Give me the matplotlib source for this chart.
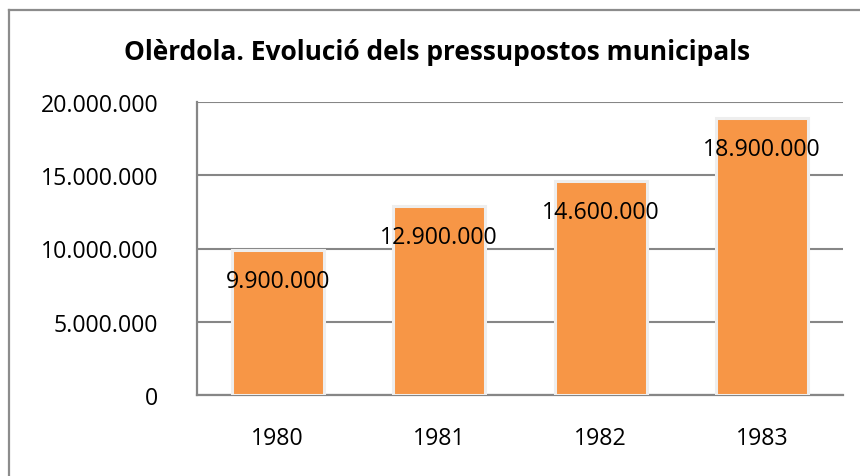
import matplotlib
matplotlib.use("Agg")
import matplotlib.pyplot as plt
from matplotlib.lines import Line2D
from matplotlib.ticker import FuncFormatter

years = ["1980", "1981", "1982", "1983"]
budgets = [9900000, 12900000, 14600000, 18900000]
yticks = [0, 5000000, 10000000, 15000000, 20000000]
title = "Olèrdola. Evolució dels pressupostos municipals"

plt.rcParams['font.family'] = ['Open Sans', 'DejaVu Sans']

def fmt(v):
    return f"{int(v):,}".replace(",", ".")

W, H = 860, 477
fig = plt.figure(figsize=(W / 100, H / 100), dpi=100)
ax = fig.add_axes([197 / W, 1 - 396 / H, (843 - 197) / W, (396 - 103) / H])

grid_c = "#868686"
x = range(len(years))
bars = ax.bar(x, budgets, width=0.57, color="#F79646",
              edgecolor="#eeeeee", linewidth=2.2, zorder=3)

ax.set_xlim(-0.5, len(years) - 0.5)
ax.set_ylim(0, 20000000)
ax.set_yticks(yticks)
ax.yaxis.set_major_formatter(FuncFormatter(lambda v, p: fmt(v)))
ax.set_xticks(list(x))
ax.set_xticklabels(years)

ax.grid(axis="y", color=grid_c, linewidth=1.5, zorder=0)
ax.set_axisbelow(True)
for s in ["top", "right"]:
    ax.spines[s].set_visible(False)
for s in ["left", "bottom"]:
    ax.spines[s].set_color(grid_c)
    ax.spines[s].set_linewidth(1.6)
ax.tick_params(axis="both", length=0, labelsize=16.7, colors="black")
ax.tick_params(axis="y", pad=28)
ax.tick_params(axis="x", pad=22)

for rect, v in zip(bars, budgets):
    ax.annotate(fmt(v), (rect.get_x() + rect.get_width() / 2, v),
                xytext=(0, -22), textcoords="offset points",
                ha="center", va="center", fontsize=16.7, color="black", zorder=5)

fig.text(437 / W, 1 - 52 / H, title, ha="center", va="center",
         fontsize=19, fontweight="bold", color="black")

# chart-area border (left and top visible)
fig.add_artist(Line2D([9 / W, 9 / W], [0, 1 - 10.5 / H], color="#8c8c8c", linewidth=1.6))
fig.add_artist(Line2D([9 / W, 1], [1 - 10.5 / H, 1 - 10.5 / H], color="#8c8c8c", linewidth=1.6))

fig.savefig("out.png", dpi=100)
